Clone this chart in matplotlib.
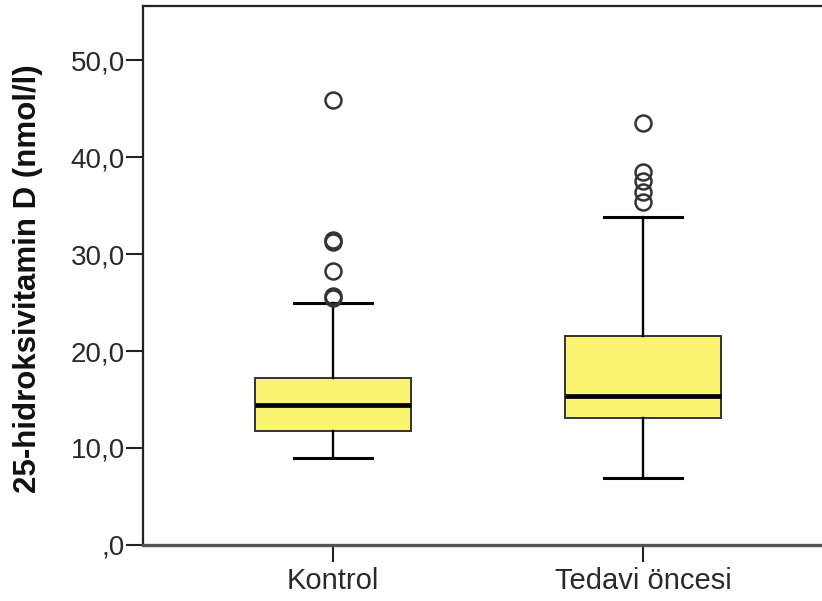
import matplotlib
matplotlib.use("Agg")
import matplotlib.pyplot as plt

# five-number summaries and outliers per group (nmol/l)
groups = ["Kontrol", "Tedavi öncesi"]
whisker_low = [9.0, 6.9]
q1 = [11.8, 13.1]
median = [14.4, 15.4]
q3 = [17.2, 21.5]
whisker_high = [24.9, 33.8]
outliers_kontrol = [25.5, 25.7, 28.3, 31.2, 31.4, 45.9]
outliers_tedavi = [35.4, 36.4, 37.5, 38.5, 43.5]

y_ticks = [0, 10, 20, 30, 40, 50]
y_tick_labels = [",0", "10,0", "20,0", "30,0", "40,0", "50,0"]

plt.rcParams["font.family"] = ["Liberation Sans", "DejaVu Sans"]

stats = []
for i, name in enumerate(groups):
    stats.append({
        "label": name,
        "whislo": whisker_low[i],
        "q1": q1[i],
        "med": median[i],
        "q3": q3[i],
        "whishi": whisker_high[i],
        "fliers": [outliers_kontrol, outliers_tedavi][i],
    })

fig = plt.figure(figsize=(8.22, 6.01), dpi=100)
ax = fig.add_axes([0.174, 0.0932, 0.8394, 0.8968])

ax.bxp(
    stats,
    positions=[1, 2],
    widths=0.505,
    capwidths=0.25,
    patch_artist=True,
    boxprops=dict(facecolor="#faf470", edgecolor="#333333", linewidth=1.4),
    medianprops=dict(color="black", linewidth=3.4, solid_capstyle="butt"),
    whiskerprops=dict(color="black", linewidth=1.7),
    capprops=dict(color="black", linewidth=2.2),
    flierprops=dict(marker="o", markersize=11.5, markerfacecolor="none",
                    markeredgecolor="#333333", markeredgewidth=1.8),
)

ax.set_xlim(0.387, 2.613)
ax.set_ylim(0, 55.57)
ax.set_yticks(y_ticks)
ax.set_yticklabels(y_tick_labels)
ax.set_xticks([1, 2])
ax.set_xticklabels(groups)

ax.tick_params(axis="y", length=12, width=1.5, color="#222222", pad=1,
               labelsize=20, labelcolor="#2a2a2a")
ax.tick_params(axis="x", length=12, width=1.5, color="#222222", pad=4,
               labelsize=21, labelcolor="#2a2a2a")

for side in ["left", "top"]:
    ax.spines[side].set_linewidth(1.6)
    ax.spines[side].set_color("#222222")
ax.spines["bottom"].set_linewidth(2.4)
ax.spines["bottom"].set_color("#555555")
ax.spines["right"].set_visible(False)

ax.set_ylabel("25-hidroksivitamin D (nmol/l)", fontsize=22.5, fontweight="bold",
              color="#111111")
ax.yaxis.set_label_coords(-0.145, 0.495)

fig.savefig("out.png", dpi=100)
